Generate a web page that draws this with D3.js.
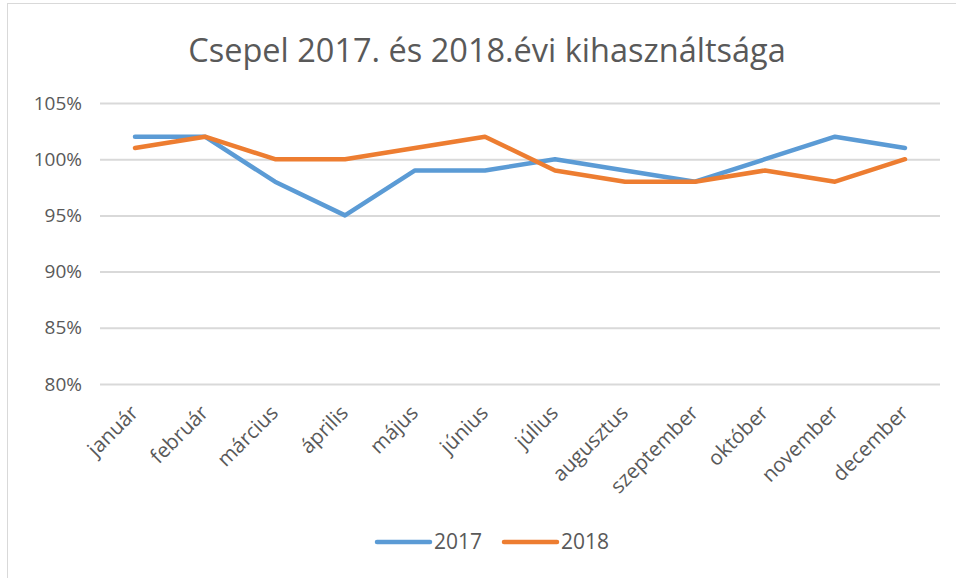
<!DOCTYPE html>
<html>
<head>
<meta charset="utf-8">
<script src="https://cdn.jsdelivr.net/npm/d3@7"></script>
<style>
  body { margin: 0; background: #fff; }
  svg text { fill: #595959; }
</style>
</head>
<body>
<div id="chart"></div>
<script>
// Categories and series values (percent)
var months = ["január", "február", "március", "április", "május", "június",
    "július", "augusztus", "szeptember", "október", "november", "december"];
var values2017 = [102, 102, 98, 95, 99, 99, 100, 99, 98, 100, 102, 101];
var values2018 = [101, 102, 100, 100, 101, 102, 99, 98, 98, 99, 98, 100];
var yTicks = [80, 85, 90, 95, 100, 105];
var seriesNames = ["2017", "2018"];

var svgWidth = 956;
var svgHeight = 578;

var margin = { top: 103, right: 16, bottom: 194, left: 100 };
var chartWidth = svgWidth - margin.left - margin.right;
var chartHeight = svgHeight - margin.top - margin.bottom;

var colors = ["#5b9bd5", "#ed7d31"];

var svg = d3.select("#chart")
    .append("svg")
    .attr("width", svgWidth)
    .attr("height", svgHeight);

// chart border (only top and left visible in the picture)
svg.append("rect")
    .attr("x", 7.5)
    .attr("y", 3.5)
    .attr("width", svgWidth + 10)
    .attr("height", svgHeight + 10)
    .attr("fill", "none")
    .attr("stroke", "#d9d9d9")
    .attr("stroke-width", 1);

// Title
svg.append("text")
    .attr("x", 487)
    .attr("y", 62)
    .attr("text-anchor", "middle")
    .style("font-family", "'Open Sans', sans-serif")
    .style("font-size", "32.5px")
    .text("Csepel 2017. és 2018.évi kihasználtsága");

var chartGroup = svg.append("g")
    .attr("transform", `translate(${margin.left}, ${margin.top})`);

var xScale = d3.scalePoint()
    .domain(months)
    .range([0, chartWidth])
    .padding(0.5);

var yScale = d3.scaleLinear()
    .domain([80, 105])
    .range([chartHeight, 0]);

// gridlines
var leftAxis = d3.axisLeft(yScale)
    .tickValues(yTicks)
    .tickSize(-chartWidth)
    .tickPadding(18)
    .tickFormat(d => d + "%");

var yAxis = chartGroup.append("g")
    .call(leftAxis);
yAxis.select(".domain").remove();
yAxis.selectAll(".tick line")
    .attr("stroke", "#d9d9d9")
    .attr("stroke-width", 2);
yAxis.selectAll(".tick text")
    .attr("fill", "#595959")
    .style("font-family", "'Open Sans', sans-serif")
    .style("font-size", "19px");

// x axis labels
var bottomAxis = d3.axisBottom(xScale).tickSize(0).tickPadding(0);
var xAxis = chartGroup.append("g")
    .attr("transform", `translate(0, ${chartHeight})`)
    .call(bottomAxis);
xAxis.select(".domain").remove();
xAxis.selectAll(".tick text")
    .attr("fill", "#595959")
    .attr("text-anchor", "end")
    .attr("dy", 0)
    .attr("transform", "translate(4, 30) rotate(-45)")
    .style("font-family", "'Open Sans', sans-serif")
    .style("font-size", "20.5px");

// lines
var line = d3.line()
    .x((d, i) => xScale(months[i]))
    .y(d => yScale(d));

[values2017, values2018].forEach(function(vals, i) {
    chartGroup.append("path")
        .datum(vals)
        .attr("d", line)
        .attr("fill", "none")
        .attr("stroke", colors[i])
        .attr("stroke-width", 4.5)
        .attr("stroke-linecap", "round")
        .attr("stroke-linejoin", "round");
});

// legend
var legend = svg.append("g")
    .attr("transform", "translate(375, 542)");

var legendItems = legend.selectAll("g")
    .data(seriesNames)
    .enter().append("g")
    .attr("transform", (d, i) => `translate(${i * 127}, 0)`);

legendItems.append("line")
    .attr("x1", 2)
    .attr("x2", 55)
    .attr("stroke", (d, i) => colors[i])
    .attr("stroke-width", 4.5)
    .attr("stroke-linecap", "round");

legendItems.append("text")
    .attr("x", 59)
    .attr("y", 7)
    .style("font-family", "'Open Sans', sans-serif")
    .style("font-size", "21px")
    .text(d => d);
</script>
</body>
</html>
